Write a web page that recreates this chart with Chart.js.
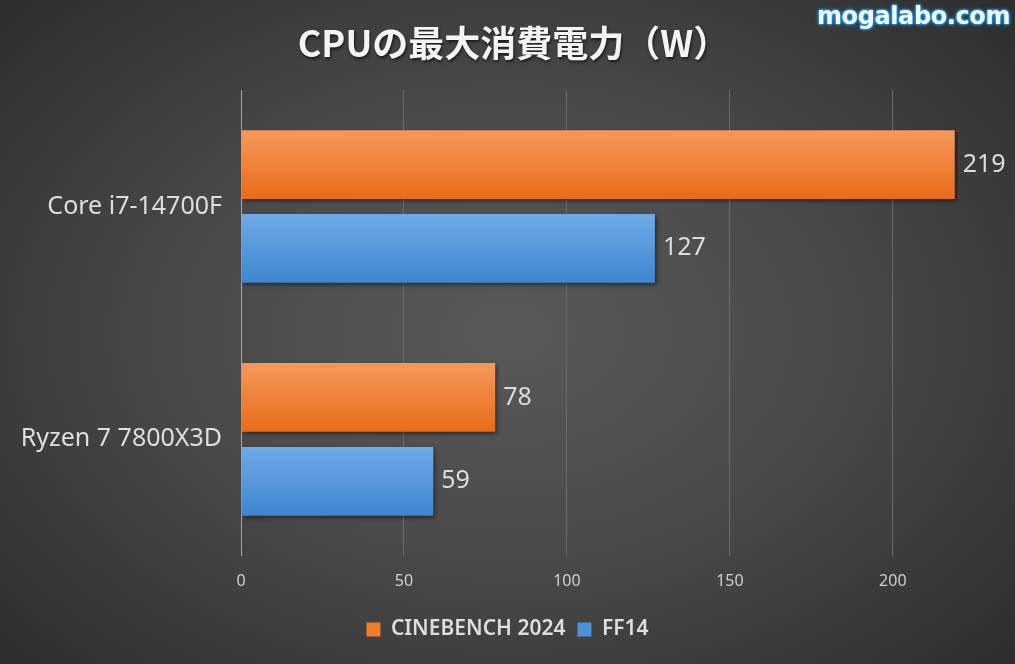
<!DOCTYPE html>
<html>
<head>
<meta charset="utf-8">
<script src="https://cdn.jsdelivr.net/npm/chart.js@4"></script>
<style>
  html, body { margin: 0; padding: 0; }
  body {
    width: 1015px; height: 664px; overflow: hidden; position: relative;
    background: radial-gradient(ellipse 70% 75% at 50% 50%, #595959 0%, #4a4a4a 45%, #2c2c2c 100%);
  }
  #title {
    position: absolute; left: 6px; top: 16px; width: 1015px; text-align: center;
    font-family: "Noto Sans CJK JP", sans-serif; font-weight: bold; font-size: 36px;
    color: #f4f4f4; text-shadow: 1px 2px 3px rgba(0,0,0,0.6); line-height: 50px;
  }
  #mark {
    position: absolute; right: 5px; top: 2px;
    font-family: "DejaVu Sans", sans-serif; font-weight: bold; font-size: 24px; letter-spacing: -0.4px;
    color: #eef8ff;
    text-shadow: 0 0 2px #2a9fe8, 0 0 2px #2a9fe8, 0 0 3px #2a9fe8, 0 0 4px #1e8ad6;
  }
  #wrap { position: absolute; left: 0; top: 0; width: 1015px; height: 664px; }
</style>
</head>
<body>
<div id="wrap"><canvas id="chart" width="1015" height="664"></canvas></div>
<div id="title">CPUの最大消費電力（W）</div>
<div id="mark">mogalabo.com</div>
<script>
  // chart data
  const categories = ["Core i7-14700F", "Ryzen 7 7800X3D"];
  const seriesNames = ["CINEBENCH 2024", "FF14"];
  const cinebench = [219, 78];
  const ff14 = [127, 59];
  const tickValues = [0, 50, 100, 150, 200];

  const solid = ["#f07c2c", "#4d93d9"];
  const grads = [["#f5985c", "#e86c18"], ["#6eaae6", "#3e86d0"]];
  const catPct = 0.72;
  const barPct = 0.82;
  const padRight = 57;

  // vertical gradient for each bar, based on where the scale puts it
  function barFill(ctx) {
    const ds = ctx.datasetIndex;
    if (ctx.type !== "data") return solid[ds];
    const chart = ctx.chart;
    const y = chart.scales.y;
    if (!y || !chart.chartArea) return solid[ds];
    const band = y.height / categories.length;
    const slot = band * catPct / 2;
    const c = y.getPixelForValue(ctx.dataIndex) + (ds - 0.5) * slot;
    const h = slot * barPct / 2;
    const g = chart.ctx.createLinearGradient(0, c - h, 0, c + h);
    g.addColorStop(0, grads[ds][0]);
    g.addColorStop(1, grads[ds][1]);
    return g;
  }

  const shadowPlugin = {
    id: "barShadow",
    beforeDatasetsDraw(chart) {
      const c = chart.ctx;
      c.save();
      c.shadowColor = "rgba(0,0,0,0.45)";
      c.shadowBlur = 4;
      c.shadowOffsetX = 2;
      c.shadowOffsetY = 2;
    },
    afterDatasetsDraw(chart) {
      chart.ctx.restore();
    }
  };

  const valueLabels = {
    id: "valueLabels",
    afterDatasetsDraw(chart) {
      const c = chart.ctx;
      c.save();
      c.font = "25px 'Noto Sans'";
      c.fillStyle = "#dcdcdc";
      c.textAlign = "left";
      c.textBaseline = "middle";
      chart.data.datasets.forEach((ds, i) => {
        chart.getDatasetMeta(i).data.forEach((bar, j) => {
          c.fillText(ds.data[j], bar.x + 8, bar.y);
        });
      });
      c.restore();
    }
  };

  // legend is centred on the whole page, not on the padded box
  const centreLegend = {
    id: "centreLegend",
    afterLayout(chart) {
      const lg = chart.legend;
      if (!lg) return;
      lg.left += padRight / 2;
      lg.right += padRight / 2;
    }
  };

  new Chart(document.getElementById("chart"), {
    type: "bar",
    data: {
      labels: categories,
      datasets: [
        { label: seriesNames[0], data: cinebench, backgroundColor: barFill },
        { label: seriesNames[1], data: ff14, backgroundColor: barFill }
      ]
    },
    options: {
      indexAxis: "y",
      responsive: false,
      animation: false,
      devicePixelRatio: 1,
      categoryPercentage: catPct,
      barPercentage: barPct,
      layout: { padding: { top: 90, right: padRight, left: 0, bottom: 14 } },
      plugins: {
        title: { display: false },
        tooltip: { enabled: false },
        legend: {
          position: "bottom",
          labels: {
            color: "#dedede",
            font: { family: "'Noto Sans'", size: 21, weight: "600" },
            boxWidth: 14,
            boxHeight: 14,
            padding: 12,
            generateLabels: () => seriesNames.map((n, i) => ({
              text: n, fillStyle: solid[i], strokeStyle: solid[i], lineWidth: 0,
              fontColor: "#dedede", datasetIndex: i, hidden: false
            }))
          }
        }
      },
      scales: {
        x: {
          min: 0,
          max: 220,
          afterBuildTicks: (s) => { s.ticks = tickValues.map(v => ({ value: v })); },
          grid: {
            color: (ctx) => ctx.tick && ctx.tick.value === 0 ? "#a8a8a8" : "#6a6a6a",
            lineWidth: 1,
            drawTicks: false
          },
          border: { display: false },
          ticks: {
            color: "#cfcfcf",
            font: { family: "'Liberation Sans Narrow', 'Noto Sans'", size: 16 },
            padding: 16
          }
        },
        y: {
          afterFit: (s) => { s.width = 241; },
          grid: { display: false, drawTicks: false },
          border: { display: true, color: "#a8a8a8" },
          ticks: {
            color: "#dedede",
            font: { family: "'Noto Sans'", size: 25 },
            padding: 19
          }
        }
      }
    },
    plugins: [shadowPlugin, valueLabels, centreLegend]
  });
</script>
</body>
</html>
